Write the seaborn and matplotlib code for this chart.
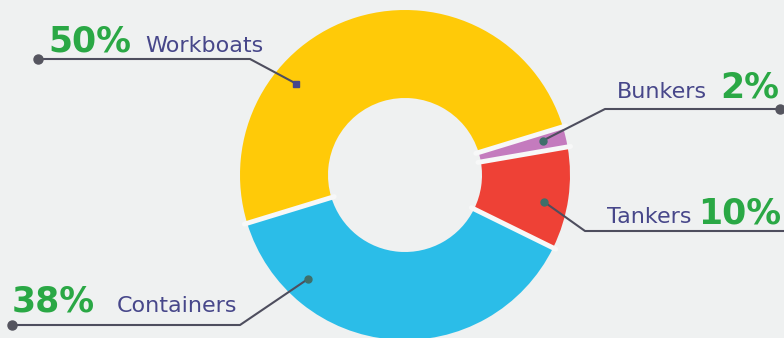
import numpy as np
import matplotlib
matplotlib.use("Agg")
import matplotlib.pyplot as plt
import seaborn as sns

# data
segments = ["Containers", "Tankers", "Bunkers", "Workboats"]
shares = [38, 10, 2, 50]
seg_colors = ["#2BBDE8", "#EE4136", "#C47BBE", "#FFCA08"]

# label layout (pixel coords, y measured from top)
anchor_angle = [227, -11, 14, 140]
elbow = [(240, 325), (585, 231), (605, 109), (250, 59)]
line_end = [(12, 325), (784, 231), (780, 109), (38, 59)]
end_dot = [True, False, True, True]
pct_pos = [(12, 312), (698, 223), (720, 98), (48, 52)]
name_pos = [(117, 312), (607, 223), (617, 98), (145, 52)]

W, H = 784, 338
cx, cy = 405, 175
R, r_in = 165, 77

sns.set_theme(style="white")
plt.rcParams["font.family"] = ["DejaVu Sans"]

bg = "#EFF1F1"
fig = plt.figure(figsize=(W / 100, H / 100), dpi=100, facecolor=bg)
ax = fig.add_axes([0, 0, 1, 1])
ax.set_facecolor(bg)

wedges, _ = ax.pie(shares, colors=seg_colors, startangle=197, counterclock=True,
                   radius=R, center=(cx, H - cy), frame=True,
                   wedgeprops=dict(width=R - r_in, edgecolor="none"))

# white gaps between slices only (no outline on the rim)
ang = 197
for s in shares:
    t = np.deg2rad(ang)
    ax.plot([cx + (r_in - 3) * np.cos(t), cx + (R + 3) * np.cos(t)],
            [(H - cy) + (r_in - 3) * np.sin(t), (H - cy) + (R + 3) * np.sin(t)],
            color="#F7F8F8", lw=3.5, zorder=3)
    ang += s * 3.6

line_col = "#4E4E5E"
pct_col = "#2AA845"
name_col = "#47478A"

for i, name in enumerate(segments):
    a = np.deg2rad(anchor_angle[i])
    ax_x = cx + 142 * np.cos(a)
    ax_y = (H - cy) + 142 * np.sin(a)
    ex, ey = elbow[i]
    lx, ly = line_end[i]
    ax.plot([ax_x, ex, lx], [ax_y, H - ey, H - ly], color=line_col, lw=1.5,
            solid_capstyle="round", zorder=5)
    mk = "s" if name == "Workboats" else "o"
    mcol = name_col if name == "Workboats" else "#3F6F6A"
    ax.plot(ax_x, ax_y, marker=mk, ms=5, color=mcol, zorder=6)
    if end_dot[i]:
        ax.plot(lx, H - ly, marker="o", ms=6.5, color="#55555F", zorder=6)
    px, py = pct_pos[i]
    nx, ny = name_pos[i]
    ax.text(px, H - py, f"{shares[i]}%", color=pct_col, fontsize=25,
            fontweight="bold", ha="left", va="baseline")
    ax.text(nx, H - ny, name, color=name_col, fontsize=16,
            ha="left", va="baseline")

ax.set_xlim(0, W)
ax.set_ylim(0, H)
ax.set_aspect("equal")
ax.axis("off")

fig.savefig("out.png", dpi=100, facecolor=bg)
